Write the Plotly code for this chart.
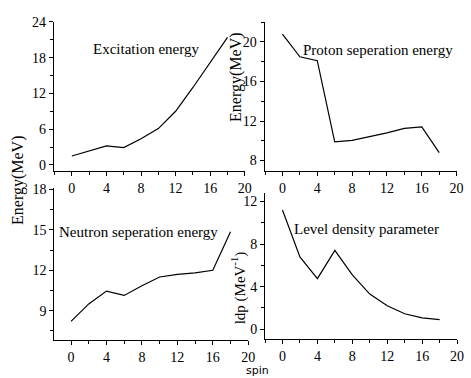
import plotly.graph_objects as go

spin = [0, 2, 4, 6, 8, 10, 12, 14, 16, 18]
excitation = [1.5, 2.3, 3.2, 2.9, 4.4, 6.1, 9.0, 13.0, 17.2, 21.4]
proton_sep = [20.8, 18.5, 18.1, 9.9, 10.05, 10.4, 10.8, 11.25, 11.4, 8.8]
neutron_sep = [8.2, 9.5, 10.45, 10.13, 10.85, 11.5, 11.7, 11.8, 12.0, 14.85]
ldp = [11.2, 6.8, 4.75, 7.4, 5.1, 3.3, 2.2, 1.45, 1.07, 0.9]

x_ticks = [0, 4, 8, 12, 16, 20]
x_minor = [-2, 2, 6, 10, 14, 18]

W, H = 471, 378
def px(a, b):
    return [a / W, b / W]
def py(top, bottom):
    return [1 - bottom / H, 1 - top / H]

FONT = "Liberation Serif"
fig = go.Figure()

panels = [
    ("x", "y", excitation, px(54.5, 248.5), py(15.3, 168), [-2.1, 20], [-1.1, 24], 6, 3),
    ("x2", "y2", proton_sep, px(268.5, 463.5), py(15, 168), [-2.06, 20], [6.9, 22.05], 4, 2),
    ("x3", "y3", neutron_sep, px(55, 252), py(185, 340.5), [-1.9, 20], [6.8, 18.1], 3, 1.5),
    ("x4", "y4", ldp, px(269, 464), py(190, 339.5), [-2.0, 20], [-0.95, 12.8], 4, 2),
]

for i, (xa, ya, vals, xd, yd, xr, yr, ydt, ymin) in enumerate(panels):
    fig.add_trace(go.Scatter(x=spin, y=vals, mode="lines", xaxis=xa, yaxis=ya,
                             line=dict(color="black", width=1.2), showlegend=False))
    sfx = "" if i == 0 else str(i + 1)
    fig.layout["xaxis" + sfx] = dict(
        domain=xd, range=xr, anchor=ya, showgrid=False, zeroline=False,
        showline=True, linecolor="black", linewidth=1,
        tickmode="array", tickvals=x_ticks, ticks="outside", ticklen=4,
        tickcolor="black", tickfont=dict(family=FONT, size=14, color="black"),
        minor=dict(tickmode="array", tickvals=x_minor, ticks="outside",
                   ticklen=3, tickcolor="black", showgrid=False),
    )
    fig.layout["yaxis" + sfx] = dict(
        domain=yd, range=yr, anchor=xa, showgrid=False, zeroline=False,
        showline=True, linecolor="black", linewidth=1,
        dtick=ydt, tick0=0, ticks="outside", ticklen=4, tickcolor="black",
        tickfont=dict(family=FONT, size=14, color="black"),
        minor=dict(dtick=ymin, tick0=0, ticks="outside", ticklen=3, tickcolor="black", showgrid=False),
    )

def ann(text, x, y, size=15, angle=0, family=FONT):
    fig.add_annotation(text=text, x=x / W, y=1 - y / H, xref="paper", yref="paper",
                       showarrow=False, textangle=angle,
                       font=dict(family=family, size=size, color="black"),
                       xanchor="center", yanchor="middle")

ann("Excitation energy", 148, 43)
ann("Proton seperation energy", 383.5, 44)
ann("Neutron seperation energy", 141, 230)
ann("Level density parameter", 372, 227)
ann("Energy(MeV)", 19, 177, size=16, angle=-90)
ann("Energy(MeV)", 240, 72, size=16, angle=-90)
ann("ldp (MeV<sup>-1</sup>)", 243, 287, size=15, angle=-90)
ann("spin", 261, 371, size=11, family="DejaVu Sans")

fig.update_layout(width=W, height=H, margin=dict(l=0, r=0, t=0, b=0),
                  paper_bgcolor="white", plot_bgcolor="white")

fig.write_html("out.html")
